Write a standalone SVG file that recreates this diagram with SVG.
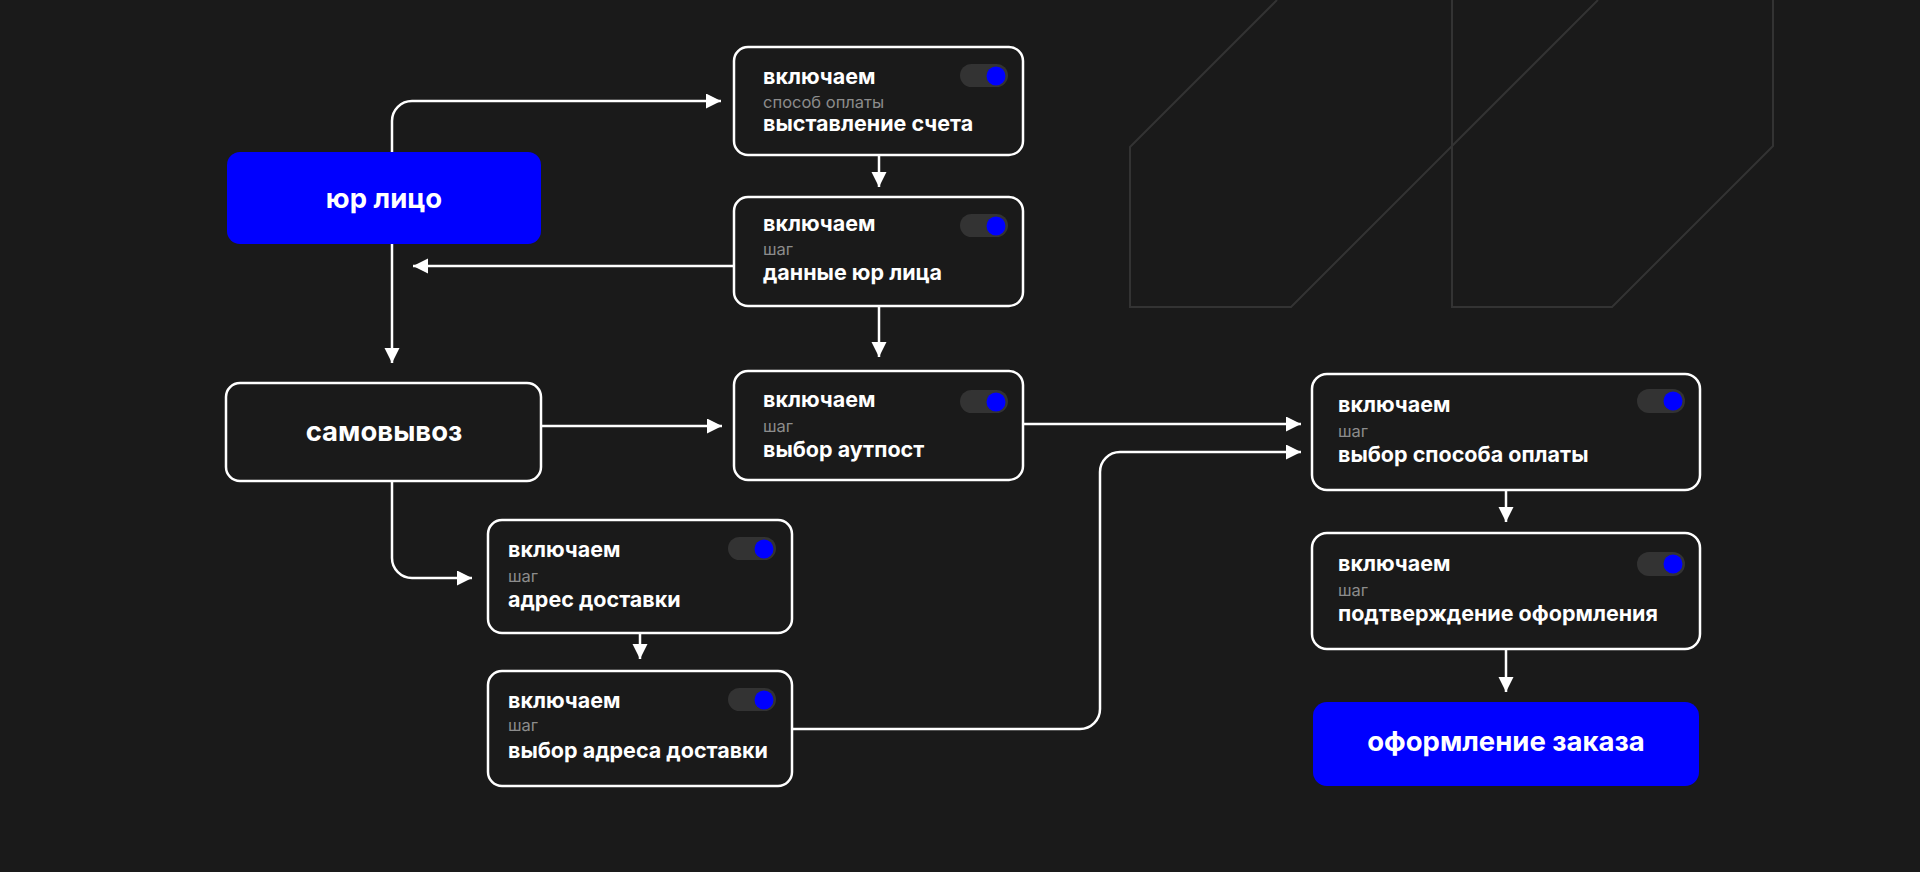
<svg xmlns="http://www.w3.org/2000/svg" width="1920" height="872" viewBox="0 0 1920 872">
<defs>
<style>
.bg{fill:#1a1a1a}
.deco{fill:none;stroke:#333333;stroke-width:2}
.card{fill:#1a1a1a;stroke:#ffffff;stroke-width:2.5}
.blue{fill:#0000ff}
.tg{fill:#333333}
.dot{fill:#0000ff}
.t1{font-family:Inter,"Open Sans",sans-serif;font-weight:700;font-size:21.5px;fill:#ffffff}
.t2{font-family:Inter,"Open Sans",sans-serif;font-weight:400;font-size:16.5px;fill:#8c8c8c}
.big{font-family:Inter,"Open Sans",sans-serif;font-weight:700;font-size:27.5px;fill:#ffffff;text-anchor:middle}
.conn{fill:none;stroke:#ffffff;stroke-width:2.5}
</style>
<marker id="arr" markerUnits="userSpaceOnUse" markerWidth="16" markerHeight="16" refX="15" refY="7.5" orient="auto">
<path d="M0,0 L15,7.5 L0,15 z" fill="#ffffff"/>
</marker>
</defs>
<rect class="bg" x="0" y="0" width="1920" height="872"/>
<g id="decoration">
<polyline class="deco" points="1277,0 1130,147 1130,307 1291,307 1598,0"/>
<polyline class="deco" points="1452,0 1452,307 1612,307 1773,146 1773,0"/>
</g>
<g id="connectors">
<path class="conn" marker-end="url(#arr)" d="M392,152 V121 A20,20 0 0 1 412,101 H721"/>
<path class="conn" marker-end="url(#arr)" d="M879,156 V187"/>
<path class="conn" marker-end="url(#arr)" d="M734,266 H413"/>
<path class="conn" marker-end="url(#arr)" d="M392,244 V363"/>
<path class="conn" marker-end="url(#arr)" d="M879,306 V357"/>
<path class="conn" marker-end="url(#arr)" d="M541,426 H722"/>
<path class="conn" marker-end="url(#arr)" d="M392,481 V558 A20,20 0 0 0 412,578 H472"/>
<path class="conn" marker-end="url(#arr)" d="M640,633 V659"/>
<path class="conn" marker-end="url(#arr)" d="M1023,424 H1301"/>
<path class="conn" marker-end="url(#arr)" d="M792,729 H1080 A20,20 0 0 0 1100,709 V472 A20,20 0 0 1 1120,452 H1301"/>
<path class="conn" marker-end="url(#arr)" d="M1506,490 V522"/>
<path class="conn" marker-end="url(#arr)" d="M1506,649 V692"/>
</g>
<g id="node-yur">
<rect class="blue" x="227" y="152" width="314" height="92" rx="13"/>
<text class="big" x="384" y="208">юр лицо</text>
</g>
<g id="node-invoice">
<rect class="card" x="734" y="47" width="289" height="108" rx="14"/>
<text class="t1" x="763" y="84">включаем</text>
<text class="t2" x="763" y="108">способ оплаты</text>
<text class="t1" x="763" y="131">выставление счета</text>
<rect class="tg" x="960" y="64" width="48" height="23" rx="11.5"/>
<circle class="dot" cx="996" cy="76" r="9.5"/>
</g>
<g id="node-yur-data">
<rect class="card" x="734" y="197" width="289" height="109" rx="14"/>
<text class="t1" x="763" y="231">включаем</text>
<text class="t2" x="763" y="255">шаг</text>
<text class="t1" x="763" y="280">данные юр лица</text>
<rect class="tg" x="960" y="214" width="48" height="23" rx="11.5"/>
<circle class="dot" cx="996" cy="226" r="9.5"/>
</g>
<g id="node-pickup">
<rect class="card" x="226" y="383" width="315" height="98" rx="14"/>
<text class="big" x="384" y="441">самовывоз</text>
</g>
<g id="node-outpost">
<rect class="card" x="734" y="371" width="289" height="109" rx="14"/>
<text class="t1" x="763" y="407">включаем</text>
<text class="t2" x="763" y="432">шаг</text>
<text class="t1" x="763" y="457">выбор аутпост</text>
<rect class="tg" x="960" y="390" width="48" height="23" rx="11.5"/>
<circle class="dot" cx="996" cy="402" r="9.5"/>
</g>
<g id="node-address">
<rect class="card" x="488" y="520" width="304" height="113" rx="14"/>
<text class="t1" x="508" y="557">включаем</text>
<text class="t2" x="508" y="582">шаг</text>
<text class="t1" x="508" y="607">адрес доставки</text>
<rect class="tg" x="728" y="537" width="48" height="23" rx="11.5"/>
<circle class="dot" cx="764" cy="549" r="9.5"/>
</g>
<g id="node-address-choice">
<rect class="card" x="488" y="671" width="304" height="115" rx="14"/>
<text class="t1" x="508" y="708">включаем</text>
<text class="t2" x="508" y="731">шаг</text>
<text class="t1" x="508" y="758">выбор адреса доставки</text>
<rect class="tg" x="728" y="688" width="48" height="23" rx="11.5"/>
<circle class="dot" cx="764" cy="700" r="9.5"/>
</g>
<g id="node-payment">
<rect class="card" x="1312" y="374" width="388" height="116" rx="15"/>
<text class="t1" x="1338" y="412">включаем</text>
<text class="t2" x="1338" y="437">шаг</text>
<text class="t1" x="1338" y="462">выбор способа оплаты</text>
<rect class="tg" x="1637" y="389" width="48" height="24" rx="12"/>
<circle class="dot" cx="1673" cy="401" r="9.5"/>
</g>
<g id="node-confirm">
<rect class="card" x="1312" y="533" width="388" height="116" rx="15"/>
<text class="t1" x="1338" y="571">включаем</text>
<text class="t2" x="1338" y="596">шаг</text>
<text class="t1" x="1338" y="621">подтверждение оформления</text>
<rect class="tg" x="1637" y="552" width="48" height="24" rx="12"/>
<circle class="dot" cx="1673" cy="564" r="9.5"/>
</g>
<g id="node-order">
<rect class="blue" x="1313" y="702" width="386" height="84" rx="14"/>
<text class="big" x="1506" y="751">оформление заказа</text>
</g>
</svg>
